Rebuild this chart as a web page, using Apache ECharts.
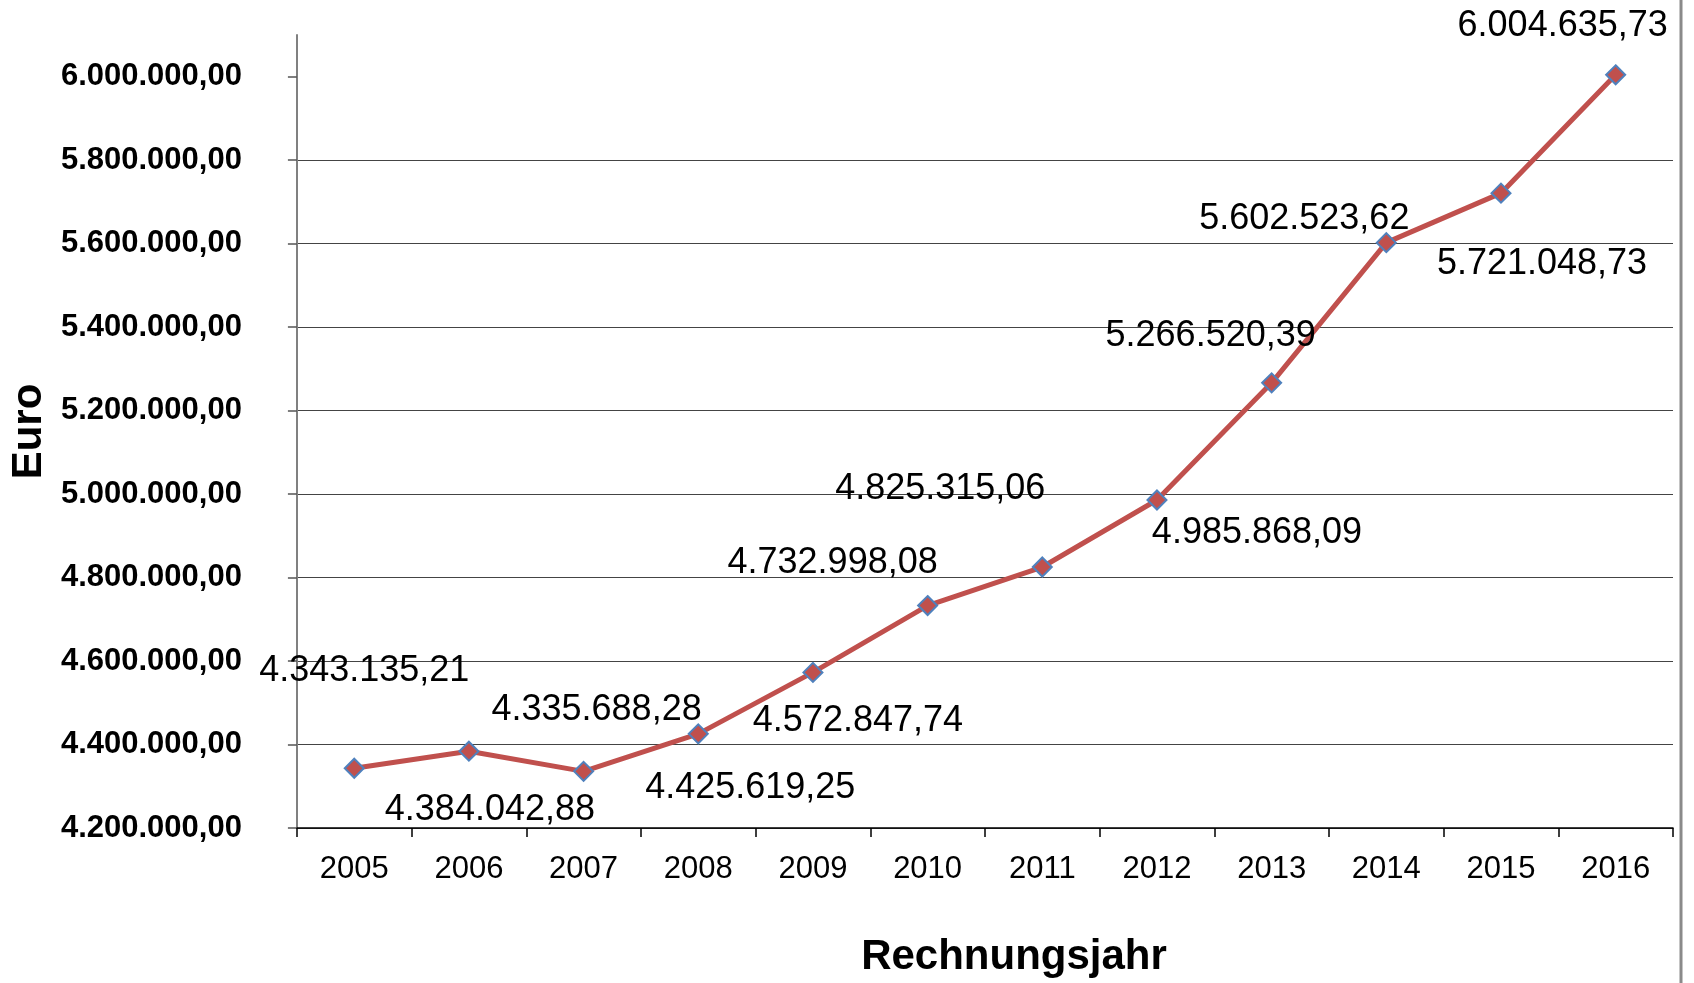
<!DOCTYPE html>
<html>
<head>
<meta charset="utf-8">
<script src="https://cdn.jsdelivr.net/npm/echarts@6/dist/echarts.min.js"></script>
<style>
  html, body { margin: 0; padding: 0; background: #fff; }
  #main { width: 1694px; height: 983px; }
</style>
</head>
<body>
<div id="main"></div>
<script>
// Rechnungsjahre und Beträge in Euro
var years = ['2005', '2006', '2007', '2008', '2009', '2010', '2011', '2012', '2013', '2014', '2015', '2016'];
var amounts = [4343135.21, 4384042.88, 4335688.28, 4425619.25, 4572847.74, 4732998.08,
               4825315.06, 4985868.09, 5266520.39, 5602523.62, 5721048.73, 6004635.73];
var yTicks = [4200000, 4400000, 4600000, 4800000, 5000000, 5200000, 5400000, 5600000, 5800000, 6000000];

// where each value label sits, relative to its point (hand placed like in the original)
var labelOffsets = [[10, -97], [21, 59], [13, -61], [52, 54], [45, 49], [-95, -42],
                    [-102, -78], [100, 33], [-61, -47], [-82, -24], [41, 71], [-53, -49]];

function fmt(v) {
  var parts = v.toFixed(2).split('.');
  var intPart = parts[0].replace(/\B(?=(\d{3})+(?!\d))/g, '.');
  return intPart + ',' + parts[1];
}

var chart = echarts.init(document.getElementById('main'));

var seriesData = amounts.map(function (v, i) {
  return { value: v, label: { offset: labelOffsets[i] } };
});

var option = {
  backgroundColor: '#fff',
  animation: false,
  textStyle: { fontFamily: 'Liberation Sans, Arial, sans-serif' },
  title: {
    text: 'Rechnungsjahr',
    left: 1009,
    top: 931,
    textAlign: 'center',
    textStyle: { fontSize: 42, fontWeight: 'bold', color: '#000', fontFamily: 'Liberation Sans, Arial, sans-serif' }
  },
  grid: { left: 292, right: 21, top: 35, bottom: 155, containLabel: false },
  xAxis: {
    type: 'category',
    data: years,
    boundaryGap: true,
    axisLine: { lineStyle: { color: '#000', width: 1.5 } },
    axisTick: { show: true, length: 9, inside: false, lineStyle: { color: '#000', width: 1.5 } },
    axisLabel: { color: '#000', fontSize: 31, margin: 26, interval: 0 },
    splitLine: { show: false }
  },
  yAxis: {
    type: 'value',
    min: 4200000,
    max: 6100000,
    interval: 200000,
    name: 'Euro',
    nameLocation: 'middle',
    nameRotate: 90,
    nameGap: 237,
    nameTextStyle: { fontSize: 42, fontWeight: 'bold', color: '#000' },
    axisLine: { show: true, lineStyle: { color: '#808080', width: 2 } },
    axisTick: { show: true, length: 9, customValues: yTicks, lineStyle: { color: '#555', width: 1.5 } },
    axisLabel: {
      customValues: yTicks,
      color: '#000',
      fontSize: 31,
      fontWeight: 'bold',
      margin: 55,
      formatter: function (v) { return fmt(v); }
    },
    splitLine: { show: true, showMaxLine: false, lineStyle: { color: '#444', width: 1.2 } }
  },
  series: [{
    type: 'line',
    data: seriesData,
    symbol: 'diamond',
    symbolSize: 19,
    lineStyle: { color: '#C0504D', width: 5 },
    itemStyle: { color: '#C0504D', borderColor: '#4F81BD', borderWidth: 2 },
    label: {
      show: true,
      position: 'inside',
      color: '#000',
      fontSize: 36,
      formatter: function (p) { return fmt(p.value); }
    },
    z: 3
  }],
  graphic: [{
    type: 'line',
    shape: { x1: 1681, y1: 0, x2: 1681, y2: 983 },
    style: { stroke: '#8a8a8a', lineWidth: 3 }
  }]
};

chart.setOption(option);
</script>
</body>
</html>
